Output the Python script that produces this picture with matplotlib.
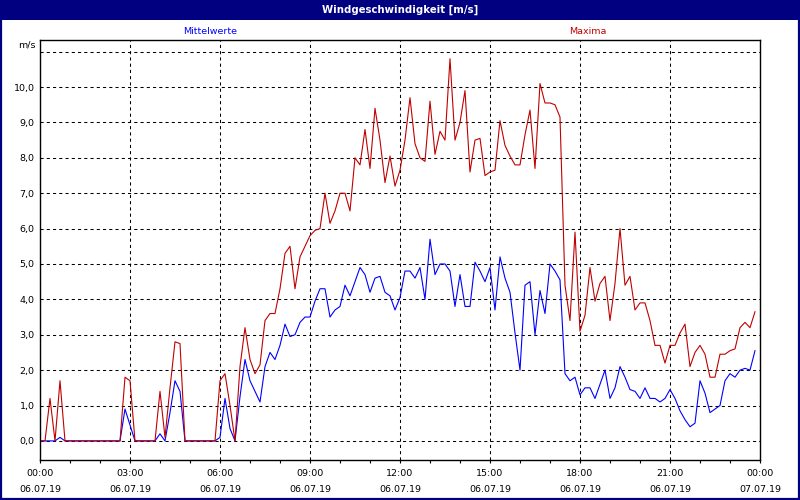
import numpy as np
import matplotlib
matplotlib.use("Agg")
import matplotlib.pyplot as plt
from matplotlib.patches import Rectangle

# 10-minute values, 06.07.19 00:00 .. 23:50 (one row = 2 hours)
maxima = [
    0, 0, 1.2, 0, 1.7, 0, 0, 0, 0, 0, 0, 0,
    0, 0, 0, 0, 0, 1.8, 1.7, 0, 0, 0, 0, 0,
    1.4, 0.1, 1.5, 2.8, 2.75, 0, 0, 0, 0, 0, 0, 0,
    1.7, 1.9, 1.0, 0, 2.1, 3.2, 2.3, 1.9, 2.15, 3.4, 3.6, 3.6,
    4.3, 5.3, 5.5, 4.3, 5.2, 5.5, 5.8, 5.95, 6.0, 7.0, 6.15, 6.5,
    7.0, 7.0, 6.5, 8.0, 7.8, 8.8, 7.7, 9.4, 8.5, 7.3, 8.05, 7.2,
    7.65, 8.5, 9.7, 8.4, 8.0, 7.9, 9.6, 8.1, 8.75, 8.5, 10.8, 8.5,
    9.0, 9.9, 7.6, 8.5, 8.55, 7.5, 7.6, 7.65, 9.05, 8.35, 8.05, 7.8,
    7.8, 8.65, 9.35, 7.7, 10.1, 9.55, 9.55, 9.5, 9.15, 4.4, 3.4, 5.9,
    3.1, 3.55, 4.9, 3.95, 4.45, 4.65, 3.4, 4.45, 6.0, 4.4, 4.65, 3.7,
    3.9, 3.9, 3.4, 2.7, 2.7, 2.2, 2.7, 2.7, 3.05, 3.3, 2.1, 2.5,
    2.7, 2.45, 1.8, 1.8, 2.45, 2.45, 2.55, 2.6, 3.2, 3.35, 3.2, 3.65,
]

mittelwerte = [
    0, 0, 0, 0, 0.1, 0, 0, 0, 0, 0, 0, 0,
    0, 0, 0, 0, 0, 0.9, 0.45, 0, 0, 0, 0, 0,
    0.2, 0, 0.8, 1.7, 1.4, 0, 0, 0, 0, 0, 0, 0,
    0.1, 1.2, 0.35, 0, 1.25, 2.3, 1.7, 1.4, 1.1, 2.1, 2.5, 2.3,
    2.7, 3.3, 2.95, 3.0, 3.35, 3.5, 3.5, 3.95, 4.3, 4.3, 3.5, 3.7,
    3.8, 4.4, 4.1, 4.5, 4.9, 4.7, 4.2, 4.6, 4.65, 4.2, 4.1, 3.7,
    4.05, 4.8, 4.8, 4.6, 4.9, 4.0, 5.7, 4.7, 5.0, 5.0, 4.8, 3.8,
    4.7, 3.8, 3.8, 5.05, 4.8, 4.5, 4.9, 3.7, 5.2, 4.6, 4.2, 3.05,
    2.0, 4.4, 4.5, 3.0, 4.25, 3.6, 5.0, 4.8, 4.55, 1.9, 1.7, 1.8,
    1.3, 1.5, 1.5, 1.2, 1.6, 2.0, 1.2, 1.5, 2.1, 1.8, 1.45, 1.4,
    1.2, 1.5, 1.2, 1.2, 1.1, 1.2, 1.45, 1.2, 0.85, 0.6, 0.4, 0.5,
    1.7, 1.35, 0.8, 0.9, 1.0, 1.7, 1.9, 1.8, 2.0, 2.05, 2.0, 2.55,
]

tick_hours = [0, 3, 6, 9, 12, 15, 18, 21, 24]
tick_labels = [
    "00:00\n06.07.19", "03:00\n06.07.19", "06:00\n06.07.19",
    "09:00\n06.07.19", "12:00\n06.07.19", "15:00\n06.07.19",
    "18:00\n06.07.19", "21:00\n06.07.19", "00:00\n07.07.19",
]
y_ticks = list(range(0, 12))
y_labels = [f"{v},0" for v in range(0, 11)] + [""]

title = "Windgeschwindigkeit [m/s]"
navy = "#000080"


def main():
    plt.rcParams["font.family"] = ["DejaVu Sans"]

    fig = plt.figure(figsize=(8, 5), dpi=100)
    fig.patch.set_facecolor("white")

    # title bar and window frame
    fig.patches.append(Rectangle((0, 0.96), 1, 0.04, transform=fig.transFigure,
                                 facecolor=navy, edgecolor="none", zorder=0))
    fig.patches.append(Rectangle((0.001, 0.002), 0.998, 0.997, transform=fig.transFigure,
                                 facecolor="none", edgecolor=navy, linewidth=1.6, zorder=5))
    fig.text(0.5, 0.981, title, color="white", fontsize=7.3, fontweight="bold",
             ha="center", va="center")

    ax = fig.add_axes([0.05, 0.08, 0.90, 0.84])

    hours = np.arange(len(maxima)) / 6.0
    ax.plot(hours, mittelwerte, color="#0000ff", linewidth=0.8)
    ax.plot(hours, maxima, color="#c00000", linewidth=0.8)

    ax.set_xlim(0, 24)
    ax.set_ylim(-0.54, 11.33)

    ax.set_xticks(tick_hours)
    ax.set_xticklabels(tick_labels, fontsize=6.8, linespacing=1.95)
    ax.set_xticks(np.arange(0, 25, 1), minor=True)
    ax.tick_params(axis="x", which="both", direction="out", length=2.5, width=0.8, pad=4)

    ax.set_yticks(y_ticks)
    ax.set_yticklabels(y_labels, fontsize=6.8)
    ax.tick_params(axis="y", length=0, pad=4)

    ax.grid(True, axis="both", which="major", color="black", linestyle=(0, (3, 3)),
            linewidth=0.75)

    for s in ax.spines.values():
        s.set_linewidth(1.0)
        s.set_color("black")

    fig.text(0.045, 0.91, "m/s", fontsize=6.8, ha="right", va="center")
    fig.text(0.263, 0.938, "Mittelwerte", color="#0000ff", fontsize=6.8,
             ha="center", va="center")
    fig.text(0.735, 0.938, "Maxima", color="#c00000", fontsize=6.8,
             ha="center", va="center")

    fig.savefig("out.png", dpi=100)
    plt.close(fig)


if __name__ == "__main__":
    main()
